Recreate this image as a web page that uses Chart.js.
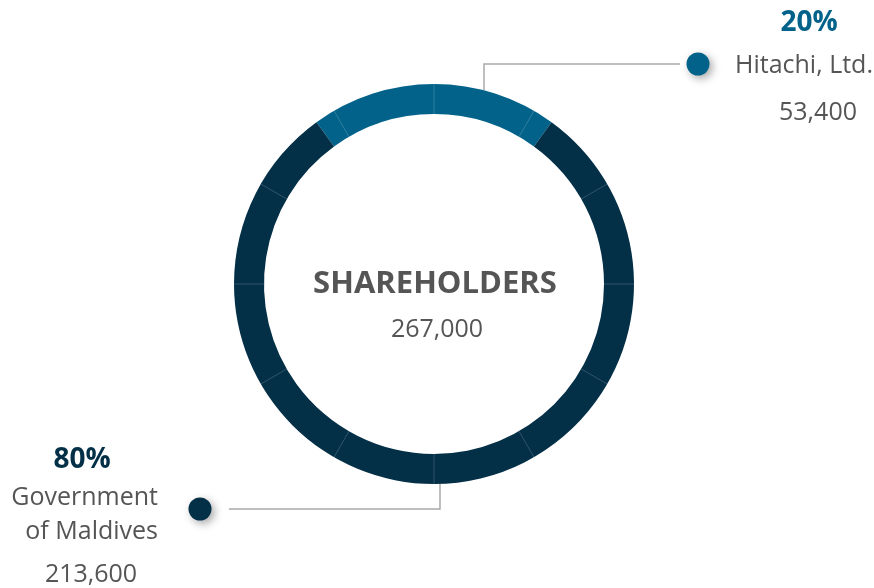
<!DOCTYPE html>
<html>
<head>
<meta charset="utf-8">
<script src="https://cdn.jsdelivr.net/npm/chart.js@4"></script>
<style>
  html, body { margin: 0; padding: 0; background: #fff; }
  #shareChart { display: block; }
</style>
</head>
<body>
<canvas id="shareChart" width="874" height="588"></canvas>
<script>
var holders = ["Hitachi, Ltd.", "Government of Maldives"];
var shares = [53400, 213600];
var percents = ["20%", "80%"];
var shareLabels = ["53,400", "213,600"];
var totalLabel = "267,000";
var colors = ["#02628a", "#032f47"];

// faint dividers every 30 degrees + labels, connectors, centre text
var decorPlugin = {
  id: 'decor',
  afterDatasetsDraw: function(chart) {
    var c = chart.ctx;
    var arc = chart.getDatasetMeta(0).data[0];
    var cx = arc.x, cy = arc.y, R = arc.outerRadius, r = arc.innerRadius;
    c.save();
    c.strokeStyle = 'rgba(255,255,255,0.18)';
    c.lineWidth = 1;
    for (var a = 0; a < 360; a += 30) {
      var t = (a - 90) * Math.PI / 180;
      c.beginPath();
      c.moveTo(cx + r * Math.cos(t), cy + r * Math.sin(t));
      c.lineTo(cx + R * Math.cos(t), cy + R * Math.sin(t));
      c.stroke();
    }

    // connectors
    c.strokeStyle = '#a9a9a9';
    c.lineWidth = 1.5;
    c.beginPath();
    c.moveTo(680, 64);
    c.lineTo(484, 64);
    c.lineTo(484, cy - Math.sqrt(R * R - 50 * 50));
    c.stroke();
    c.beginPath();
    c.moveTo(229, 509);
    c.lineTo(440, 509);
    c.lineTo(440, cy + Math.sqrt(R * R - 6 * 6));
    c.stroke();

    // dots
    function dot(x, y, col) {
      c.save();
      c.shadowColor = 'rgba(0,0,0,0.35)';
      c.shadowBlur = 9;
      c.shadowOffsetX = 3;
      c.shadowOffsetY = 3;
      c.fillStyle = col;
      c.beginPath();
      c.arc(x, y, 11.5, 0, Math.PI * 2);
      c.fill();
      c.restore();
    }
    dot(698, 64, colors[0]);
    dot(200, 509, colors[1]);

    c.textBaseline = 'middle';
    // Hitachi
    c.textAlign = 'center';
    c.fillStyle = colors[0];
    c.font = 'bold 28px "Open Sans"';
    c.fillText(percents[0], 809, 23);
    c.fillStyle = '#555';
    c.font = '25px "Open Sans"';
    c.textAlign = 'left';
    c.fillText(holders[0], 735, 66);
    c.textAlign = 'center';
    c.fillText(shareLabels[0], 818, 113);

    // Government
    c.fillStyle = colors[1];
    c.font = 'bold 28px "Open Sans"';
    c.fillText(percents[1], 82, 460);
    c.fillStyle = '#555';
    c.font = '25px "Open Sans"';
    c.textAlign = 'right';
    c.fillText("Government", 158, 498);
    c.fillText("of Maldives", 158, 532);
    c.textAlign = 'center';
    c.fillText(shareLabels[1], 91, 575);

    // centre
    c.font = 'bold 31px "Open Sans"';
    c.fillText("SHAREHOLDERS", cx + 1, cy);
    c.font = '25px "Open Sans"';
    c.fillText(totalLabel, cx + 3, cy + 46);
    c.restore();
  }
};

var chart = new Chart(document.getElementById('shareChart').getContext('2d'), {
  type: 'doughnut',
  data: {
    labels: holders,
    datasets: [{
      data: shares,
      backgroundColor: colors,
      borderWidth: 0
    }]
  },
  options: {
    responsive: false,
    animation: false,
    rotation: -36,
    cutout: '85%',
    layout: { padding: { left: 234, right: 240, top: 84, bottom: 104 } },
    plugins: {
      legend: { display: false },
      tooltip: { enabled: false }
    }
  },
  plugins: [decorPlugin]
});
</script>
</body>
</html>
